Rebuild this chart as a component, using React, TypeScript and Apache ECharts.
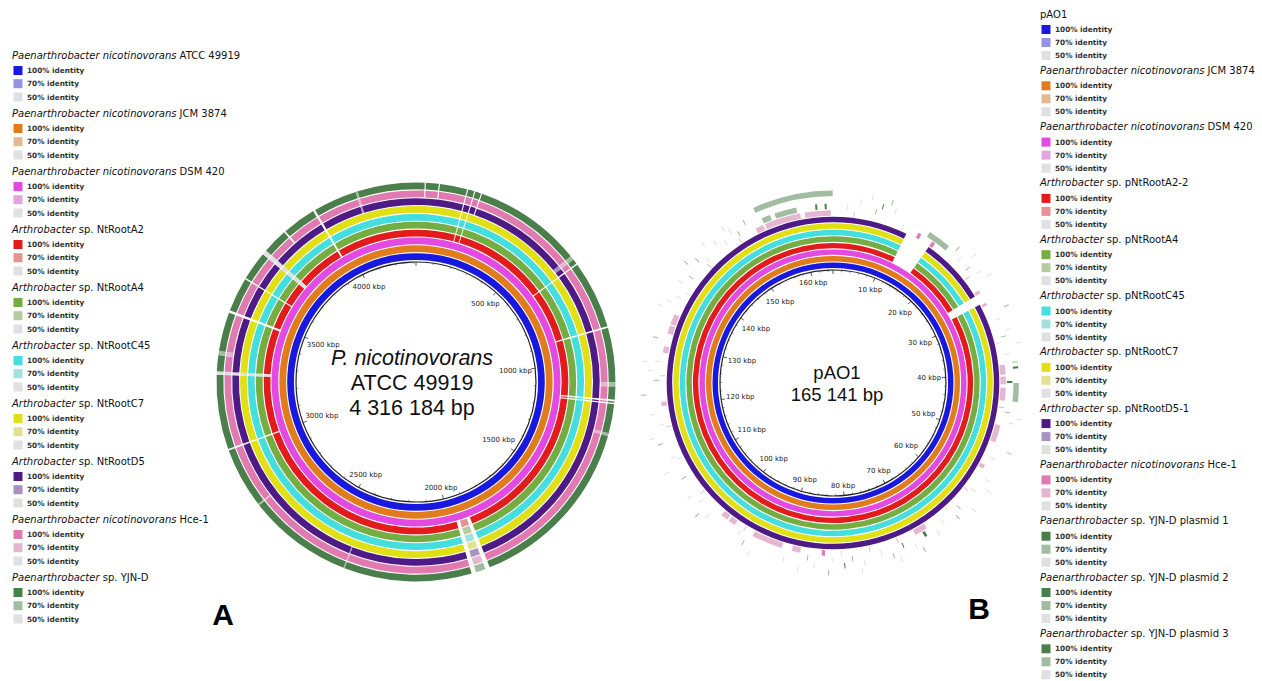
import React, { useEffect, useRef } from "react";
import * as echarts from "echarts";

// ---------------- DATA ----------------
const A_LENGTH_KBP = 4316.184;
const B_LENGTH_KBP = 165.141;

const A_TICKS = [500, 1000, 1500, 2000, 2500, 3000, 3500, 4000];
const B_TICKS = [10, 20, 30, 40, 50, 60, 70, 80, 90, 100, 110, 120, 130, 140, 150, 160];

const IDENTITY_LABELS = ["100% identity", "70% identity", "50% identity"];

// Panel A legend / rings (inner -> outer)
const A_ITALIC = [
  "Paenarthrobacter nicotinovorans",
  "Paenarthrobacter nicotinovorans",
  "Paenarthrobacter nicotinovorans",
  "Arthrobacter",
  "Arthrobacter",
  "Arthrobacter",
  "Arthrobacter",
  "Arthrobacter",
  "Paenarthrobacter nicotinovorans",
  "Paenarthrobacter",
];
const A_PLAIN = [
  "ATCC 49919",
  "JCM 3874",
  "DSM 420",
  "sp. NtRootA2",
  "sp. NtRootA4",
  "sp. NtRootC45",
  "sp. NtRootC7",
  "sp. NtRootD5",
  "Hce-1",
  "sp. YJN-D",
];

// Panel B legend / rings (inner -> outer)
const B_ITALIC = [
  "",
  "Paenarthrobacter nicotinovorans",
  "Paenarthrobacter nicotinovorans",
  "Arthrobacter",
  "Arthrobacter",
  "Arthrobacter",
  "Arthrobacter",
  "Arthrobacter",
  "Paenarthrobacter nicotinovorans",
  "Paenarthrobacter",
  "Paenarthrobacter",
  "Paenarthrobacter",
];
const B_PLAIN = [
  "pAO1",
  "JCM 3874",
  "DSM 420",
  "sp. pNtRootA2-2",
  "sp. pNtRootA4",
  "sp. pNtRootC45",
  "sp. pNtRootC7",
  "sp. pNtRootD5-1",
  "Hce-1",
  "sp. YJN-D plasmid 1",
  "sp. YJN-D plasmid 2",
  "sp. YJN-D plasmid 3",
];

// colours: [100%, 70%, 50%]
const BLUE = ["#1818de", "#9494e2", "#e0e0e0"];
const ORANGE = ["#e07c1c", "#e2b892", "#e0e0e0"];
const MAGENTA = ["#e24ae2", "#e4a4e2", "#e0e0e0"];
const RED = ["#e21c1c", "#e49292", "#e0e0e0"];
const GREEN = ["#74ae42", "#b4cca0", "#e0e0e0"];
const CYAN = ["#44dede", "#a4e0e0", "#e0e0e0"];
const YELLOW = ["#e0e014", "#e2e292", "#e0e0e0"];
const PURPLE = ["#4e1a86", "#a892c2", "#e0e0e0"];
const PINK = ["#e07ab0", "#e4b6d0", "#e0e0e0"];
const DKGREEN = ["#4a7e4a", "#a2bca2", "#e0e0e0"];

const A_COLORS = [BLUE, ORANGE, MAGENTA, RED, GREEN, CYAN, YELLOW, PURPLE, PINK, DKGREEN];
const B_COLORS = [BLUE, ORANGE, MAGENTA, RED, GREEN, CYAN, YELLOW, PURPLE, PINK, DKGREEN, DKGREEN, DKGREEN];

// Low-identity regions on panel A rings: [fromRing, toRing, startKbp, endKbp, identity]
const A_GAPS = [
  [8, 9, 30, 34, 0],
  [8, 9, 79, 83, 0],
  [3, 9, 178, 182, 0],
  [3, 9, 204, 208, 0],
  [7, 9, 228, 232, 0],
  [7, 9, 610, 625, 70],
  [3, 9, 642, 647, 0],
  [3, 9, 884, 890, 0],
  [8, 9, 1080, 1095, 70],
  [3, 9, 1140, 1146, 0],
  [3, 9, 1151, 1156, 0],
  [8, 9, 1258, 1268, 70],
  [3, 9, 1898, 1914, 0],
  [3, 9, 1914, 1948, 70],
  [3, 9, 1948, 1964, 0],
  [7, 9, 2410, 2414, 70],
  [8, 9, 2780, 2786, 70],
  [3, 9, 2996, 3002, 0],
  [3, 9, 3262, 3274, 50],
  [8, 9, 3330, 3345, 70],
  [3, 9, 3481, 3490, 0],
  [3, 9, 3609, 3614, 0],
  [3, 9, 3715, 3732, 50],
  [8, 9, 3820, 3826, 0],
  [3, 9, 3944, 3952, 0],
  [7, 9, 4105, 4112, 70],
];

// Gaps on panel B full rings
const B_GAPS = [
  [3, 7, 12.0, 16.1, 0],
  [3, 7, 26.9, 28.4, 0],
];
const B_FULL_RINGS = 8;

// Sparse hits on panel B outer rings: [startKbp, endKbp, identity]
const B_HCE1_HITS = [
  [13.6, 14.1, 100], [16.1, 16.6, 100], [26.4, 26.9, 70], [28.6, 29.0, 70],
  [38.5, 40.0, 70], [40.3, 41.5, 70], [42.0, 44.0, 70], [47.8, 50.5, 70],
  [54.3, 54.9, 70], [67.5, 69.5, 70], [83.8, 84.3, 100], [87.6, 88.9, 70],
  [90.5, 95.3, 70], [98.5, 99.6, 70], [99.9, 101.0, 70], [120.3, 121.0, 70],
  [128.5, 129.5, 70], [131.5, 132.8, 70], [133.0, 134.6, 70],
  [152.9, 154.2, 70], [154.5, 160.1, 70], [160.8, 164.8, 70],
];
const B_P1_HITS = [
  [15.0, 18.5, 70], [41.0, 41.3, 100], [68.0, 68.4, 100],
  [154.4, 155.7, 70], [156.4, 159.7, 70], [162.5, 162.8, 100], [163.9, 164.2, 100],
];
const B_P2_HITS = [
  [41.3, 44.0, 70], [38.9, 39.2, 100],
];
const B_P3_HITS = [
  [153.9, 165.1, 70],
];

// Thin scattered hits on panel B: [ring, positionKbp, identity]
const B_SCATTER = [
  [8, 3.2, 70], [8, 11.0, 50], [8, 23.8, 70], [8, 35.0, 50], [8, 45.0, 70], [8, 58.9, 70],
  [8, 63.2, 50], [8, 72.3, 70], [8, 76.8, 70], [8, 81.2, 50], [8, 96.8, 70], [8, 105.5, 70],
  [8, 111.8, 50], [8, 117.0, 70], [8, 124.9, 70], [8, 138.2, 50], [8, 143.7, 70], [8, 149.9, 70],
  [9, 2.1, 50], [9, 6.4, 70], [9, 20.8, 50], [9, 22.7, 70], [9, 31.5, 50], [9, 34.2, 70],
  [9, 36.9, 50], [9, 45.6, 70], [9, 52.8, 50], [9, 58.3, 50], [9, 61.7, 70], [9, 64.9, 50],
  [9, 71.8, 100], [9, 75.2, 50], [9, 79.6, 70], [9, 82.5, 50], [9, 86.3, 70], [9, 97.2, 50],
  [9, 104.6, 50], [9, 108.9, 70], [9, 112.3, 50], [9, 117.5, 50], [9, 124.2, 70], [9, 127.0, 50],
  [9, 137.1, 50], [9, 140.6, 70], [9, 144.2, 50], [9, 147.9, 50], [9, 150.3, 70],
  [10, 4.0, 50], [10, 7.2, 100], [10, 9.1, 50], [10, 19.6, 70], [10, 24.1, 50], [10, 33.4, 50],
  [10, 38.2, 70], [10, 47.1, 50], [10, 56.0, 50], [10, 62.8, 70], [10, 66.4, 50], [10, 70.1, 50],
  [10, 73.6, 70], [10, 77.9, 50], [10, 80.8, 100], [10, 85.2, 50], [10, 89.7, 50], [10, 96.0, 70],
  [10, 102.4, 50], [10, 106.1, 50], [10, 114.8, 70], [10, 119.2, 50], [10, 125.6, 50], [10, 130.4, 70],
  [10, 136.0, 50], [10, 139.2, 50], [10, 143.1, 70], [10, 146.7, 50], [10, 149.4, 50], [10, 151.8, 70],
  [11, 5.5, 50], [11, 8.3, 70], [11, 21.9, 50], [11, 25.3, 50], [11, 30.2, 70], [11, 35.6, 50],
  [11, 46.3, 50], [11, 51.2, 70], [11, 57.2, 50], [11, 60.5, 50], [11, 69.3, 70], [11, 72.7, 50],
  [11, 78.4, 50], [11, 83.1, 70], [11, 87.4, 50], [11, 94.6, 50], [11, 103.5, 70], [11, 110.7, 50],
  [11, 115.9, 50], [11, 122.1, 70], [11, 126.8, 50], [11, 134.9, 50], [11, 141.8, 70], [11, 145.3, 50],
  [11, 148.8, 50],
];

// ---------------- helpers ----------------
function buildFullRings(nRings: number, length: number, gaps: number[][]) {
  const out: number[][] = [];
  for (let r = 0; r < nRings; r++) {
    const g = gaps.filter((x) => r >= x[0] && r <= x[1]).sort((a, b) => a[2] - b[2]);
    let cur = 0;
    for (const x of g) {
      if (x[2] > cur) out.push([r, cur, x[2], 100]);
      if (x[4] > 0) out.push([r, x[2], x[3], x[4]]);
      cur = Math.max(cur, x[3]);
    }
    if (cur < length) out.push([r, cur, length, 100]);
  }
  return out;
}

const measureCtx: any = typeof document !== "undefined" ? document.createElement("canvas").getContext("2d") : null;
function textWidth(t: string, font: string) {
  if (!measureCtx) return t.length * 4;
  measureCtx.font = font;
  return measureCtx.measureText(t).width;
}

function ringRenderer(colors: string[][], minSpan: number) {
  return (params: any, api: any) => {
    const ring = api.value(0);
    const s = api.value(1);
    const e = api.value(2);
    const idt = api.value(3);
    const p0 = api.coord([ring, s]);
    const p1 = api.coord([ring, e]);
    const band = api.size([1, 0])[0];
    const cs = params.coordSys;
    const lvl = idt >= 100 ? 0 : idt >= 70 ? 1 : 2;
    const sa = -p0[3];
    let ea = -p1[3];
    if (ea - sa < minSpan) ea = sa + minSpan;
    return {
      type: "sector",
      shape: {
        cx: cs.cx,
        cy: cs.cy,
        r0: p0[2] - band / 2 + 0.55,
        r: p0[2] + band / 2 - 0.55,
        startAngle: sa,
        endAngle: ea,
        clockwise: true,
      },
      style: { fill: colors[ring][lvl] },
    };
  };
}

function labelRenderer(fontSize: number, gap: number) {
  const font = `${fontSize}px "DejaVu Sans"`;
  return (params: any, api: any) => {
    const v = api.value(1);
    const p = api.coord([1, v]);
    const cs = params.coordSys;
    const R = p[2];
    const dx = (p[0] - cs.cx) / R;
    const dy = (p[1] - cs.cy) / R;
    const text = `${v} kbp`;
    const hw = textWidth(text, font) / 2;
    const hh = fontSize * 0.62;
    const k = Math.abs(dx) * hw + Math.abs(dy) * hh + gap;
    return {
      type: "text",
      x: cs.cx + dx * (R - k),
      y: cs.cy + dy * (R - k),
      style: {
        text,
        font,
        fill: "#222",
        align: "center",
        verticalAlign: "middle",
      },
    };
  };
}

function legend(
  italic: string[],
  plain: string[],
  colors: string[][],
  x0: number,
  top: number,
  step: number,
  rowOffsets: number[]
) {
  const els: any[] = [];
  italic.forEach((it, i) => {
    const t = top + step * i;
    els.push({
      type: "text",
      x: x0,
      y: t,
      style: {
        text: it ? `{i|${it}} ${plain[i]}` : plain[i],
        fontFamily: "DejaVu Sans",
        fontSize: 10,
        fill: "#111",
        verticalAlign: "middle",
        rich: { i: { fontFamily: "DejaVu Sans", fontSize: 10, fontStyle: "italic", fill: "#111" } },
      },
    });
    IDENTITY_LABELS.forEach((lab, j) => {
      const y = t + rowOffsets[j];
      els.push({
        type: "rect",
        shape: { x: x0 + 1.5, y: y - 4.5, width: 9, height: 9 },
        style: { fill: colors[i][j] },
      });
      els.push({
        type: "text",
        x: x0 + 15,
        y,
        style: {
          text: lab,
          fontFamily: "DejaVu Sans",
          fontSize: 7.3,
          fontWeight: "bold",
          fill: "#333",
          verticalAlign: "middle",
        },
      });
    });
  });
  return els;
}

function axisAngle(polarIndex: number, max: number, interval: number, visible: boolean) {
  return {
    polarIndex,
    type: "value",
    min: 0,
    max,
    interval,
    startAngle: 90,
    clockwise: true,
    axisLine: { show: visible, lineStyle: { color: "#222", width: 1.2 } },
    axisTick: { show: visible, inside: true, length: 4, lineStyle: { color: "#333", width: 0.8 } },
    minorTick: { show: visible, splitNumber: 5, length: 2, lineStyle: { color: "#555", width: 0.6 } },
    axisLabel: { show: false },
    splitLine: { show: false },
  };
}

export default function App() {
  const ref = useRef<HTMLDivElement>(null);
  useEffect(() => {
    document.body.style.margin = "0";
    const chart = echarts.init(ref.current!, null, { renderer: "svg" });

    const aSegments = buildFullRings(A_PLAIN.length, A_LENGTH_KBP, A_GAPS);
    const bSegments = buildFullRings(B_FULL_RINGS, B_LENGTH_KBP, B_GAPS)
      .concat(B_HCE1_HITS.map((h) => [8, h[0], h[1], h[2]]))
      .concat(B_P1_HITS.map((h) => [9, h[0], h[1], h[2]]))
      .concat(B_P2_HITS.map((h) => [10, h[0], h[1], h[2]]))
      .concat(B_P3_HITS.map((h) => [11, h[0], h[1], h[2]]))
      .concat(B_SCATTER.map((h) => [h[0], h[1], h[1], h[2]]));

    const graphics: any[] = [
      ...legend(A_ITALIC, A_PLAIN, A_COLORS, 12, 55, 58, [15.5, 28.7, 42]),
      ...legend(B_ITALIC, B_PLAIN, B_COLORS, 1040, 14, 56.3, [15.5, 28.5, 41.5]),
      {
        type: "text", x: 412, y: 358,
        style: { text: "P. nicotinovorans", font: 'italic 21.5px "Liberation Sans"', fill: "#111", align: "center", verticalAlign: "middle" },
      },
      {
        type: "text", x: 412, y: 383,
        style: { text: "ATCC 49919", font: '21.5px "Liberation Sans"', fill: "#111", align: "center", verticalAlign: "middle" },
      },
      {
        type: "text", x: 412, y: 408,
        style: { text: "4 316 184 bp", font: '21.5px "Liberation Sans"', fill: "#111", align: "center", verticalAlign: "middle" },
      },
      {
        type: "text", x: 837, y: 372,
        style: { text: "pAO1", font: '18.5px "Liberation Sans"', fill: "#111", align: "center", verticalAlign: "middle" },
      },
      {
        type: "text", x: 837, y: 394,
        style: { text: "165 141 bp", font: '18.5px "Liberation Sans"', fill: "#111", align: "center", verticalAlign: "middle" },
      },
      {
        type: "text", x: 223, y: 614,
        style: { text: "A", font: 'bold 30px "Liberation Sans"', fill: "#000", align: "center", verticalAlign: "middle" },
      },
      {
        type: "text", x: 979, y: 608,
        style: { text: "B", font: 'bold 30px "Liberation Sans"', fill: "#000", align: "center", verticalAlign: "middle" },
      },
    ];

    chart.setOption({
      animation: false,
      backgroundColor: "#ffffff",
      polar: [
        { center: [416, 382], radius: 120 },
        { center: [416, 382], radius: [121.5, 200] },
        { center: [833, 383], radius: 113 },
        { center: [833, 383], radius: [114.5, 193] },
      ],
      angleAxis: [
        axisAngle(0, A_LENGTH_KBP, 500, true),
        axisAngle(1, A_LENGTH_KBP, 500, false),
        axisAngle(2, B_LENGTH_KBP, 10, true),
        axisAngle(3, B_LENGTH_KBP, 10, false),
      ],
      radiusAxis: [
        { polarIndex: 0, type: "value", min: 0, max: 1, show: false },
        { polarIndex: 1, type: "category", data: A_PLAIN, show: false },
        { polarIndex: 2, type: "value", min: 0, max: 1, show: false },
        { polarIndex: 3, type: "category", data: B_PLAIN, show: false },
      ],
      series: [
        {
          type: "custom",
          coordinateSystem: "polar",
          polarIndex: 1,
          data: aSegments,
          renderItem: ringRenderer(A_COLORS, 0.004),
          silent: true,
        },
        {
          type: "custom",
          coordinateSystem: "polar",
          polarIndex: 3,
          data: bSegments,
          renderItem: ringRenderer(B_COLORS, 0.0055),
          silent: true,
        },
        {
          type: "custom",
          coordinateSystem: "polar",
          polarIndex: 0,
          data: A_TICKS.map((v) => [1, v]),
          renderItem: labelRenderer(7, 3),
          silent: true,
        },
        {
          type: "custom",
          coordinateSystem: "polar",
          polarIndex: 2,
          data: B_TICKS.map((v) => [1, v]),
          renderItem: labelRenderer(7, 4.5),
          silent: true,
        },
      ],
      graphic: { elements: graphics },
    });
    return () => chart.dispose();
  }, []);
  return <div ref={ref} style={{ width: 1262, height: 681 }} />;
}
